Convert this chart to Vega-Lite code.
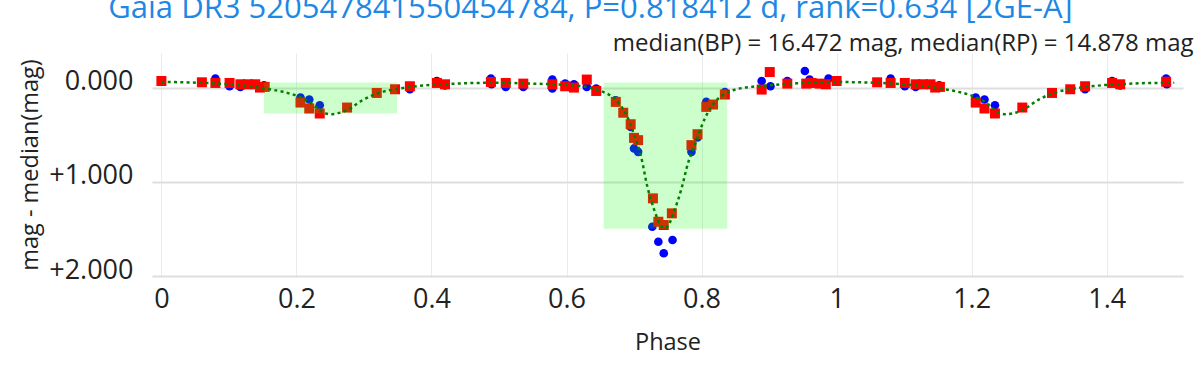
{
  "$schema": "https://vega.github.io/schema/vega-lite/v6.json",
  "width": 1031,
  "height": 223,
  "autosize": {"type": "none"},
  "padding": {"left": 152, "top": 53, "right": 13, "bottom": 92},
  "title": {
    "text": "Gaia DR3 520547841550454784, P=0.818412 d, rank=0.634 [2GE-A]",
    "font": "Open Sans", "fontSize": 31, "fontWeight": "normal", "color": "#1e88e5",
    "anchor": "middle", "frame": "group", "dx": -77, "dy": 17, "baseline": "alphabetic", "offset": 0
  },
  "config": {
    "view": {"stroke": null},
    "font": "Open Sans",
    "axis": {
      "labelFont": "Open Sans", "titleFont": "Open Sans", "labelColor": "#222222", "titleColor": "#222222",
      "titleFontWeight": "normal", "ticks": false, "domain": false, "labelFontSize": 27, "titleFontSize": 23.5
    },
    "axisX": {"gridColor": "#ebebeb", "gridWidth": 1, "labelPadding": 31, "labelBaseline": "alphabetic", "labelFlush": false, "titleY": 73.4, "titleBaseline": "alphabetic"},
    "axisY": {"gridColor": "#dedede", "gridWidth": 2, "labelPadding": 19, "labelBaseline": "alphabetic", "labelOffset": 2, "titleX": -115, "titleY": 111.5, "titleBaseline": "alphabetic"}
  },
  "datasets": {
    "bp": [
      {"phase":0.080,"mag":-0.095},{"phase":0.101,"mag":-0.014},{"phase":0.117,"mag":-0.006},{"phase":0.152,"mag":-0.024},
      {"phase":0.206,"mag":0.106},{"phase":0.219,"mag":0.127},{"phase":0.2345,"mag":0.1875},{"phase":0.368,"mag":0.018},
      {"phase":0.408,"mag":-0.070},{"phase":0.420,"mag":-0.024},{"phase":0.488,"mag":-0.095},{"phase":0.489,"mag":-0.035},
      {"phase":0.510,"mag":-0.007},{"phase":0.536,"mag":-0.007},{"phase":0.579,"mag":-0.085},{"phase":0.579,"mag":0.010},
      {"phase":0.598,"mag":-0.042},{"phase":0.611,"mag":-0.035},{"phase":0.630,"mag":-0.007},{"phase":0.644,"mag":0.010},
      {"phase":0.673,"mag":0.135},{"phase":0.695,"mag":0.417},{"phase":0.700,"mag":0.646},{"phase":0.706,"mag":0.682},
      {"phase":0.727,"mag":1.477},{"phase":0.736,"mag":1.636},{"phase":0.744,"mag":1.759},{"phase":0.757,"mag":1.618},
      {"phase":0.785,"mag":0.682},{"phase":0.794,"mag":0.530},{"phase":0.807,"mag":0.152},{"phase":0.8345,"mag":0.047},
      {"phase":0.889,"mag":-0.070},{"phase":0.902,"mag":-0.014},{"phase":0.927,"mag":-0.070},{"phase":0.953,"mag":-0.176},
      {"phase":0.960,"mag":-0.085},{"phase":0.988,"mag":-0.095},
      {"phase":1.080,"mag":-0.095},{"phase":1.101,"mag":-0.014},{"phase":1.117,"mag":-0.006},{"phase":1.152,"mag":-0.024},
      {"phase":1.206,"mag":0.106},{"phase":1.219,"mag":0.127},{"phase":1.2345,"mag":0.1875},{"phase":1.368,"mag":0.018},
      {"phase":1.408,"mag":-0.070},{"phase":1.420,"mag":-0.024},{"phase":1.488,"mag":-0.095},{"phase":1.489,"mag":-0.035}
    ],
    "rp": [
      {"phase":0.000,"mag":-0.070},{"phase":0.060,"mag":-0.056},{"phase":0.080,"mag":-0.049},{"phase":0.101,"mag":-0.049},
      {"phase":0.117,"mag":-0.035},{"phase":0.128,"mag":-0.035},{"phase":0.139,"mag":-0.035},{"phase":0.146,"mag":0.000},
      {"phase":0.153,"mag":-0.007},{"phase":0.206,"mag":0.159},{"phase":0.219,"mag":0.222},{"phase":0.2345,"mag":0.275},
      {"phase":0.275,"mag":0.212},{"phase":0.319,"mag":0.057},{"phase":0.346,"mag":0.018},{"phase":0.368,"mag":-0.014},
      {"phase":0.408,"mag":-0.049},{"phase":0.420,"mag":-0.035},{"phase":0.488,"mag":-0.060},{"phase":0.510,"mag":-0.049},
      {"phase":0.536,"mag":-0.042},{"phase":0.579,"mag":-0.035},{"phase":0.598,"mag":-0.014},{"phase":0.611,"mag":0.000},
      {"phase":0.630,"mag":-0.085},{"phase":0.644,"mag":0.036},{"phase":0.673,"mag":0.152},{"phase":0.684,"mag":0.267},
      {"phase":0.695,"mag":0.389},{"phase":0.700,"mag":0.534},{"phase":0.706,"mag":0.558},{"phase":0.728,"mag":1.176},
      {"phase":0.736,"mag":1.424},{"phase":0.744,"mag":1.459},{"phase":0.756,"mag":1.335},{"phase":0.785,"mag":0.611},
      {"phase":0.794,"mag":0.495},{"phase":0.807,"mag":0.205},{"phase":0.817,"mag":0.180},{"phase":0.8345,"mag":0.074},
      {"phase":0.889,"mag":0.021},{"phase":0.901,"mag":-0.165},{"phase":0.927,"mag":-0.042},{"phase":0.955,"mag":-0.042},
      {"phase":0.963,"mag":-0.049},{"phase":0.975,"mag":-0.042},{"phase":0.984,"mag":-0.035},
      {"phase":1.000,"mag":-0.070},{"phase":1.060,"mag":-0.056},{"phase":1.080,"mag":-0.049},{"phase":1.101,"mag":-0.049},
      {"phase":1.117,"mag":-0.035},{"phase":1.128,"mag":-0.035},{"phase":1.139,"mag":-0.035},{"phase":1.146,"mag":0.000},
      {"phase":1.153,"mag":-0.007},{"phase":1.206,"mag":0.159},{"phase":1.219,"mag":0.222},{"phase":1.2345,"mag":0.275},
      {"phase":1.275,"mag":0.212},{"phase":1.319,"mag":0.057},{"phase":1.346,"mag":0.018},{"phase":1.368,"mag":-0.014},
      {"phase":1.408,"mag":-0.049},{"phase":1.420,"mag":-0.035},{"phase":1.488,"mag":-0.062}
    ],
    "model": [
      {"phase":0.00,"mag":-0.060},{"phase":0.02,"mag":-0.058},{"phase":0.04,"mag":-0.055},{"phase":0.06,"mag":-0.050},
      {"phase":0.08,"mag":-0.044},{"phase":0.10,"mag":-0.035},{"phase":0.12,"mag":-0.022},{"phase":0.14,"mag":-0.004},
      {"phase":0.16,"mag":0.018},{"phase":0.18,"mag":0.045},{"phase":0.20,"mag":0.085},{"phase":0.21,"mag":0.115},
      {"phase":0.22,"mag":0.155},{"phase":0.23,"mag":0.215},{"phase":0.24,"mag":0.265},{"phase":0.25,"mag":0.283},
      {"phase":0.26,"mag":0.275},{"phase":0.27,"mag":0.255},{"phase":0.28,"mag":0.220},{"phase":0.29,"mag":0.170},
      {"phase":0.30,"mag":0.125},{"phase":0.31,"mag":0.090},{"phase":0.32,"mag":0.062},{"phase":0.33,"mag":0.040},
      {"phase":0.34,"mag":0.025},{"phase":0.35,"mag":0.012},{"phase":0.36,"mag":0.002},{"phase":0.38,"mag":-0.016},
      {"phase":0.40,"mag":-0.028},{"phase":0.42,"mag":-0.036},{"phase":0.44,"mag":-0.043},{"phase":0.46,"mag":-0.048},
      {"phase":0.48,"mag":-0.050},{"phase":0.50,"mag":-0.050},{"phase":0.52,"mag":-0.048},{"phase":0.54,"mag":-0.044},
      {"phase":0.56,"mag":-0.040},{"phase":0.58,"mag":-0.035},{"phase":0.60,"mag":-0.027},{"phase":0.62,"mag":-0.016},
      {"phase":0.63,"mag":-0.008},{"phase":0.64,"mag":0.012},{"phase":0.65,"mag":0.033},{"phase":0.66,"mag":0.065},
      {"phase":0.67,"mag":0.105},{"phase":0.68,"mag":0.190},{"phase":0.69,"mag":0.310},{"phase":0.70,"mag":0.500},
      {"phase":0.71,"mag":0.720},{"phase":0.72,"mag":1.060},{"phase":0.73,"mag":1.300},{"phase":0.74,"mag":1.470},
      {"phase":0.745,"mag":1.494},{"phase":0.75,"mag":1.470},{"phase":0.76,"mag":1.300},{"phase":0.77,"mag":1.080},
      {"phase":0.78,"mag":0.800},{"phase":0.79,"mag":0.610},{"phase":0.80,"mag":0.410},{"phase":0.81,"mag":0.255},
      {"phase":0.82,"mag":0.152},{"phase":0.83,"mag":0.085},{"phase":0.84,"mag":0.045},{"phase":0.85,"mag":0.020},
      {"phase":0.86,"mag":0.005},{"phase":0.88,"mag":-0.012},{"phase":0.90,"mag":-0.025},{"phase":0.92,"mag":-0.036},
      {"phase":0.94,"mag":-0.045},{"phase":0.96,"mag":-0.052},{"phase":0.98,"mag":-0.057},
      {"phase":1.00,"mag":-0.060},{"phase":1.02,"mag":-0.058},{"phase":1.04,"mag":-0.055},{"phase":1.06,"mag":-0.050},
      {"phase":1.08,"mag":-0.044},{"phase":1.10,"mag":-0.035},{"phase":1.12,"mag":-0.022},{"phase":1.14,"mag":-0.004},
      {"phase":1.16,"mag":0.018},{"phase":1.18,"mag":0.045},{"phase":1.20,"mag":0.085},{"phase":1.21,"mag":0.115},
      {"phase":1.22,"mag":0.155},{"phase":1.23,"mag":0.215},{"phase":1.24,"mag":0.265},{"phase":1.25,"mag":0.283},
      {"phase":1.26,"mag":0.275},{"phase":1.27,"mag":0.255},{"phase":1.28,"mag":0.220},{"phase":1.29,"mag":0.170},
      {"phase":1.30,"mag":0.125},{"phase":1.31,"mag":0.090},{"phase":1.32,"mag":0.062},{"phase":1.33,"mag":0.040},
      {"phase":1.34,"mag":0.025},{"phase":1.35,"mag":0.012},{"phase":1.36,"mag":0.002},{"phase":1.38,"mag":-0.016},
      {"phase":1.40,"mag":-0.028},{"phase":1.42,"mag":-0.036},{"phase":1.44,"mag":-0.043},{"phase":1.46,"mag":-0.048},
      {"phase":1.48,"mag":-0.050},{"phase":1.50,"mag":-0.050}
    ],
    "boxes": [
      {"x0":0.152,"x1":0.349,"y0":-0.053,"y1":0.275},
      {"x0":0.655,"x1":0.838,"y0":-0.053,"y1":1.498}
    ]
  },
  "resolve": {"axis": {"x": "independent"}},
  "layer": [
    {
      "data": {"name": "bp"},
      "mark": {"type": "point", "shape": "circle", "filled": true, "color": "#0000ff", "opacity": 1, "size": 75},
      "encoding": {
        "x": {"field": "phase", "type": "quantitative", "scale": {"domain": [-0.0139, 1.513], "nice": false, "zero": false},
              "axis": {"orient": "bottom", "title": "Phase", "values": [0,0.2,0.4,0.6,0.8,1,1.2,1.4], "format": "~g", "grid": true}},
        "y": {"field": "mag", "type": "quantitative", "scale": {"domain": [-0.367, 2.0], "reverse": true, "nice": false, "zero": false},
              "axis": {"title": "mag - median(mag)", "values": [0,1,2], "labelExpr": "datum.value == 0 ? '0.000' : '+' + format(datum.value, '.3f')", "grid": true}}
      }
    },
    {
      "data": {"name": "rp"},
      "mark": {"type": "point", "shape": "square", "filled": true, "color": "#ff0000", "opacity": 1, "size": 100},
      "encoding": {
        "x": {"field": "phase", "type": "quantitative", "scale": {"domain": [-0.0139, 1.513], "nice": false, "zero": false}, "axis": null},
        "y": {"field": "mag", "type": "quantitative", "scale": {"domain": [-0.367, 2.0], "reverse": true, "nice": false, "zero": false},
              "axis": {"title": "mag - median(mag)", "values": [0,1,2], "labelExpr": "datum.value == 0 ? '0.000' : '+' + format(datum.value, '.3f')", "grid": true}}
      }
    },
    {
      "data": {"name": "boxes"},
      "mark": {"type": "rect", "color": "#00ff00", "opacity": 0.2},
      "encoding": {
        "x": {"field": "x0", "type": "quantitative", "scale": {"domain": [-0.0139, 1.513], "nice": false, "zero": false},
              "axis": {"orient": "top", "title": "median(BP) = 16.472 mag, median(RP) = 14.878 mag", "labels": false, "ticks": false, "domain": false, "grid": false,
                       "titleFontSize": 24, "titleColor": "#222222", "titleX": 1041, "titleY": -2.5, "titleAlign": "right", "titleAnchor": null, "titleBaseline": "alphabetic"}},
        "x2": {"field": "x1"},
        "y": {"field": "y0", "type": "quantitative", "scale": {"domain": [-0.367, 2.0], "reverse": true, "nice": false, "zero": false},
              "axis": {"title": "mag - median(mag)", "values": [0,1,2], "labelExpr": "datum.value == 0 ? '0.000' : '+' + format(datum.value, '.3f')", "grid": true}},
        "y2": {"field": "y1"}
      }
    },
    {
      "data": {"name": "model"},
      "mark": {"type": "line", "color": "#008000", "strokeWidth": 2.5, "strokeDash": [3, 3.3], "interpolate": "monotone"},
      "encoding": {
        "x": {"field": "phase", "type": "quantitative", "scale": {"domain": [-0.0139, 1.513], "nice": false, "zero": false}, "axis": null},
        "y": {"field": "mag", "type": "quantitative", "scale": {"domain": [-0.367, 2.0], "reverse": true, "nice": false, "zero": false},
              "axis": {"title": "mag - median(mag)", "values": [0,1,2], "labelExpr": "datum.value == 0 ? '0.000' : '+' + format(datum.value, '.3f')", "grid": true}}
      }
    }
  ]
}
